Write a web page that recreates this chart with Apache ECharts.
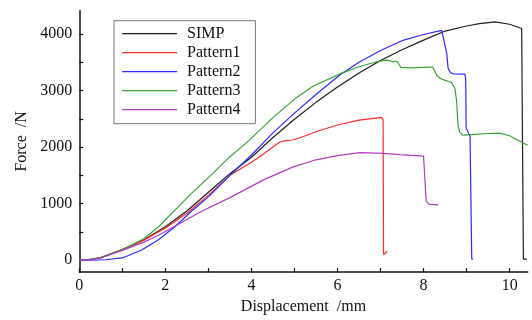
<!DOCTYPE html>
<html>
<head>
<meta charset="utf-8">
<script src="https://cdn.jsdelivr.net/npm/echarts@6/dist/echarts.min.js"></script>
<style>
  html, body { margin: 0; padding: 0; background: #fff; }
  #chart { width: 532px; height: 320px; }
</style>
</head>
<body>
<div id="chart"></div>
<script>
// Force–displacement curves: displacement in mm, force in N
const seriesNames = ['SIMP', 'Pattern1', 'Pattern2', 'Pattern3', 'Pattern4'];

const simpX = [0, 0.2, 0.5, 1.0, 1.5, 2.0, 2.5, 3.0, 3.5, 4.0, 4.5, 5.0, 5.5, 6.0, 6.5, 7.0, 7.5, 8.0, 8.5, 9.0, 9.3, 9.66, 10.0, 10.28, 10.3, 10.32, 10.4];
const simpF = [0, 5, 45, 190, 360, 590, 870, 1200, 1530, 1820, 2170, 2490, 2790, 3060, 3310, 3530, 3720, 3890, 4050, 4140, 4180, 4211, 4170, 4096, 2000, 20, 20];

const p1X = [0, 0.2, 0.5, 1.0, 1.5, 2.0, 2.5, 3.0, 3.5, 4.0, 4.28, 4.5, 4.66, 4.8, 4.95, 5.13, 5.5, 6.0, 6.5, 7.03, 7.06, 7.07, 7.12, 7.15];
const p1F = [0, 5, 45, 190, 355, 570, 830, 1150, 1500, 1730, 1878, 2000, 2090, 2115, 2125, 2165, 2270, 2390, 2475, 2523, 2480, 105, 125, 165];

const p2X = [0, 0.3, 0.6, 1.0, 1.45, 1.84, 2.22, 2.6, 3.0, 3.5, 4.0, 4.5, 5.0, 5.5, 6.06, 6.5, 7.0, 7.5, 8.0, 8.42, 8.47, 8.54, 8.57, 8.63, 8.69, 8.96, 8.98, 8.99, 9.05, 9.08, 9.12, 9.15];
const p2F = [0, 0, 8, 40, 180, 362, 592, 860, 1120, 1500, 1860, 2250, 2600, 2930, 3278, 3500, 3707, 3880, 3990, 4062, 3900, 3650, 3393, 3310, 3295, 3290, 3200, 2335, 2240, 2192, 20, 20];

const p3X = [0, 0.2, 0.5, 1.0, 1.5, 1.84, 2.0, 2.34, 2.57, 3.11, 3.5, 3.89, 4.5, 5.05, 5.44, 6.1, 6.5, 6.91, 7.14, 7.2, 7.3, 7.35, 7.4, 7.47, 7.7, 8.0, 8.21, 8.27, 8.32, 8.42, 8.65, 8.73, 8.77, 8.8, 8.84, 8.92, 9.2, 9.5, 9.76, 10.0, 10.16, 10.42];
const p3F = [0, 5, 45, 190, 380, 590, 715, 975, 1155, 1540, 1830, 2078, 2520, 2878, 3078, 3307, 3420, 3508, 3535, 3530, 3505, 3520, 3500, 3410, 3400, 3410, 3415, 3330, 3250, 3200, 3140, 3030, 2800, 2400, 2260, 2210, 2225, 2240, 2245, 2200, 2135, 2033];

const p4X = [0, 0.2, 0.5, 1.0, 1.5, 1.84, 2.22, 2.8, 3.5, 4.28, 4.97, 5.5, 6.0, 6.52, 7.07, 7.45, 8.0, 8.03, 8.06, 8.12, 8.34];
const p4F = [0, 5, 40, 175, 320, 440, 600, 849, 1106, 1420, 1649, 1775, 1850, 1900, 1889, 1866, 1840, 1820, 1048, 991, 979];

const xTickValues = [0, 1, 2, 3, 4, 5, 6, 7, 8, 9, 10];
const xLabelValues = [0, 2, 4, 6, 8, 10];
const yTickValues = [0, 500, 1000, 1500, 2000, 2500, 3000, 3500, 4000];
const yLabelValues = [0, 1000, 2000, 3000, 4000];

const colors = ['#1e1e1e', '#ff2a2a', '#2a2aff', '#35a535', '#b23cc2'];
const xs = [simpX, p1X, p2X, p3X, p4X];
const fs = [simpF, p1F, p2F, p3F, p4F];

const FONT = '"Liberation Serif", "DejaVu Serif", serif';

const chart = echarts.init(document.getElementById('chart'), null, { renderer: 'canvas' });

chart.setOption({
  animation: false,
  backgroundColor: '#ffffff',
  grid: { left: 79.3, right: 4.3, top: 10.7, bottom: 40, containLabel: false },
  legend: {
    orient: 'vertical',
    left: 114,
    top: 20.7,
    padding: [5, 15, 6, 7.5],
    itemWidth: 55,
    itemHeight: 14,
    itemGap: 3,
    borderColor: '#777',
    borderWidth: 1,
    itemStyle: { opacity: 0 },
    lineStyle: { width: 1.2 },
    textStyle: { fontFamily: FONT, fontSize: 16, color: '#111', padding: [0, 0, 0, 5] },
    data: seriesNames
  },
  xAxis: {
    type: 'value',
    min: 0,
    max: 10.42,
    name: 'Displacement  /mm',
    nameLocation: 'middle',
    nameGap: 22,
    nameTextStyle: { fontFamily: FONT, fontSize: 16, color: '#111' },
    axisLine: { show: true, onZero: false, lineStyle: { color: '#111', width: 1.5 } },
    axisTick: { show: true, inside: true, length: 4, customValues: xTickValues, lineStyle: { color: '#111', width: 1.2 } },
    axisLabel: { customValues: xLabelValues, margin: 6, fontFamily: FONT, fontSize: 16, color: '#111', formatter: v => String(v) },
    splitLine: { show: false }
  },
  yAxis: {
    type: 'value',
    min: -210,
    max: 4410,
    name: 'Force  /N',
    nameLocation: 'middle',
    nameGap: 40,
    nameTextStyle: { fontFamily: FONT, fontSize: 16, color: '#111' },
    axisLine: { show: true, onZero: false, lineStyle: { color: '#111', width: 1.5 } },
    axisTick: { show: true, inside: true, length: 4, customValues: yTickValues, lineStyle: { color: '#111', width: 1.2 } },
    axisLabel: { customValues: yLabelValues, margin: 7, fontFamily: FONT, fontSize: 16, color: '#111', formatter: v => String(v) },
    splitLine: { show: false }
  },
  series: seriesNames.map((name, i) => ({
    name: name,
    type: 'line',
    symbol: 'none',
    smooth: false,
    color: colors[i],
    lineStyle: { color: colors[i], width: 1.2 },
    data: xs[i].map((x, k) => [x, fs[i][k]])
  }))
});
</script>
</body>
</html>
